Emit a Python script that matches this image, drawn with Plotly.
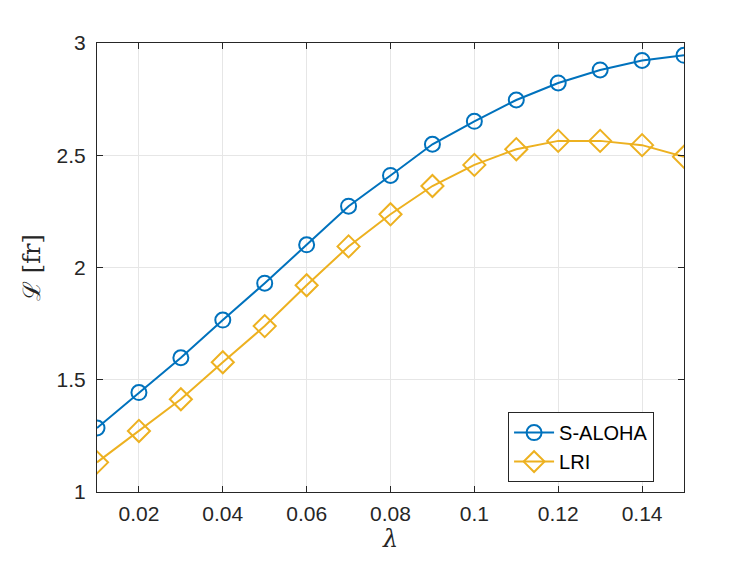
import plotly.graph_objects as go

# arrival rate
lam = [0.01, 0.02, 0.03, 0.04, 0.05, 0.06, 0.07, 0.08, 0.09, 0.10,
       0.11, 0.12, 0.13, 0.14, 0.15]

# latency values
s_aloha = [1.285, 1.443, 1.598, 1.766, 1.930, 2.101, 2.273, 2.410, 2.549,
           2.651, 2.746, 2.822, 2.880, 2.922, 2.945]
lri = [1.132, 1.272, 1.413, 1.578, 1.739, 1.921, 2.094, 2.237, 2.363,
       2.457, 2.527, 2.564, 2.564, 2.545, 2.493]

x_ticks = [0.02, 0.04, 0.06, 0.08, 0.10, 0.12, 0.14]
x_labels = ["0.02", "0.04", "0.06", "0.08", "0.1", "0.12", "0.14"]
y_ticks = [1, 1.5, 2, 2.5, 3]
y_labels = ["1", "1.5", "2", "2.5", "3"]

blue = "#0072BD"
yellow = "#EDB120"
axis_col = "#262626"

fig = go.Figure()
fig.add_trace(go.Scatter(
    x=lam, y=s_aloha, name="S-ALOHA", mode="lines+markers",
    line=dict(color=blue, width=2),
    marker=dict(symbol="circle-open", size=15, line=dict(width=2, color=blue)),
))
fig.add_trace(go.Scatter(
    x=lam, y=lri, name="LRI", mode="lines+markers",
    line=dict(color=yellow, width=2),
    marker=dict(symbol="diamond-open", size=17, line=dict(width=2, color=yellow)),
))

axis_common = dict(
    showline=True, linecolor=axis_col, linewidth=1, mirror="ticks",
    ticks="inside", ticklen=6, tickcolor=axis_col,
    showgrid=True, gridcolor="#e6e6e6", gridwidth=1,
    zeroline=False,
    tickfont=dict(family="Liberation Sans, Arial, sans-serif", size=21, color=axis_col),
)

fig.update_xaxes(
    range=[0.01, 0.15], tickvals=x_ticks, ticktext=x_labels,
    ticklabelstandoff=3,
    title=dict(text="<i>λ</i>", font=dict(family="DejaVu Serif, serif", size=24, color=axis_col),
               standoff=4),
    **axis_common,
)
fig.update_yaxes(
    range=[1, 3], tickvals=y_ticks, ticktext=y_labels,
    ticklabelstandoff=6,
    title=dict(text="ℒ [fr]", font=dict(family="DejaVu Serif, serif", size=24, color=axis_col),
               standoff=9),
    **axis_common,
)

fig.update_layout(
    width=747, height=561,
    margin=dict(l=89, r=71, t=35, b=77),
    plot_bgcolor="white", paper_bgcolor="white",
    legend=dict(
        x=0.949, y=0.022, xanchor="right", yanchor="bottom",
        bgcolor="white", bordercolor=axis_col, borderwidth=1,
        font=dict(family="Liberation Sans, Arial, sans-serif", size=20, color="black"),
        tracegroupgap=0, itemwidth=40,
    ),
    showlegend=True,
)

fig.write_html("out.html")
